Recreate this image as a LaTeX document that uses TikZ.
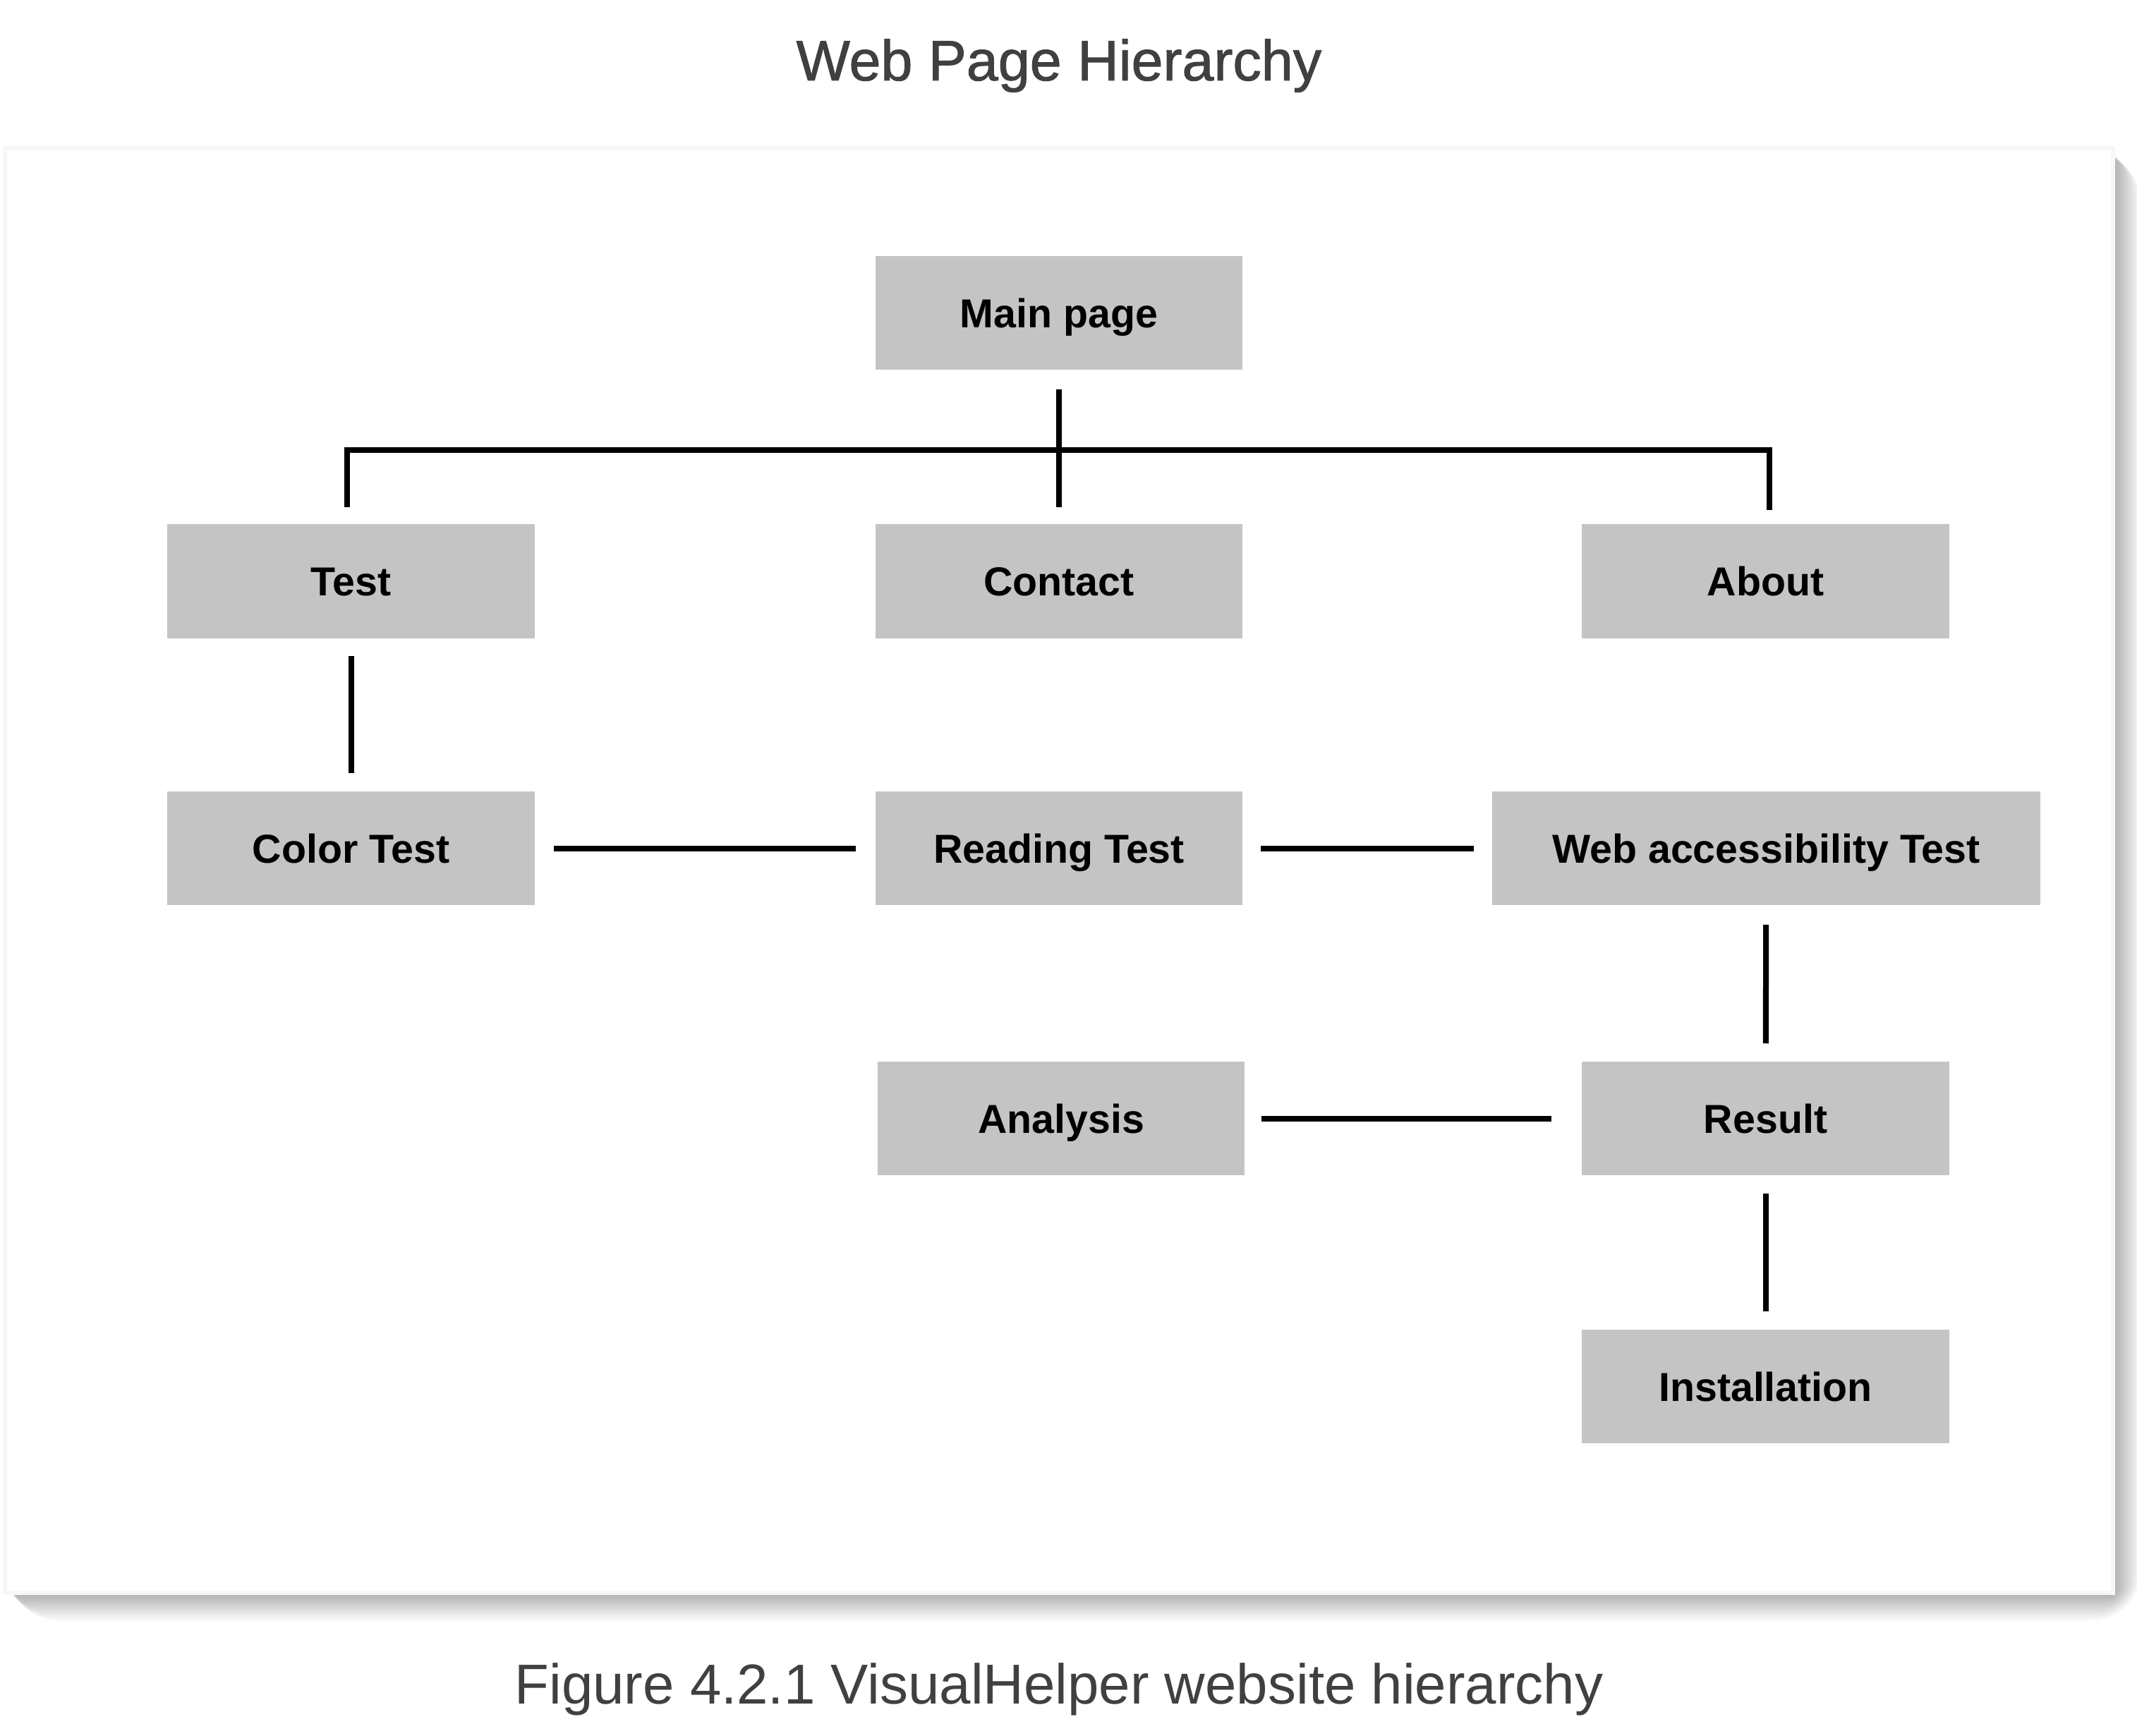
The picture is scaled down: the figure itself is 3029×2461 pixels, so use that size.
\documentclass[tikz,border=0pt]{standalone}
\usepackage{fontspec}
\setmainfont{Liberation Sans}
\newfontfamily\titlefont{Liberation Sans}[UprightFeatures={FakeBold=1.2}]
\definecolor{boxgray}{HTML}{C4C4C4}
\definecolor{txtgray}{HTML}{404040}
\begin{document}
\begin{tikzpicture}[x=0.01cm,y=-0.01cm,
  pagebox/.style={draw=none, fill=boxgray, minimum width=5.2cm, minimum height=1.61cm,
    inner sep=0pt, text height=11.67pt, text depth=0pt,
    font=\fontsize{16.3}{19}\selectfont\bfseries, text=black},
  conn/.style={line width=0.08cm, draw=black, line join=miter, line cap=butt},
  heading/.style={anchor=base, text=txtgray, inner sep=0pt}]
\useasboundingbox (0,0) rectangle (3029,2461);
\fill[white] (0,0) rectangle (3029,2461);
% shadow of the frame
\foreach \d in {1,...,20} {
  \fill[black, opacity=0.014, rounded corners=\d pt] (14,218) rectangle ({2995+2*\d},{2258+2*\d});
}
% frame
\draw[fill=white, draw=black!3, line width=0.06cm] (7,210) rectangle (2995,2258);

% title and caption
\node[heading, font=\titlefont\fontsize{23}{28}\selectfont] (title) at (1501,114) {Web Page Hierarchy};
\node[heading, font=\fontsize{22.7}{27}\selectfont] (caption) at (1501,2415) {Figure 4.2.1 VisualHelper website hierarchy};

% pages
\node[pagebox] (main) at (1501,443.5) {Main page};
\node[pagebox] (test) at (497.5,824) {Test};
\node[pagebox] (contact) at (1501,824) {Contact};
\node[pagebox] (about) at (2502.5,824) {About};
\node[pagebox] (color) at (497.5,1202.5) {Color Test};
\node[pagebox] (reading) at (1501,1202.5) {Reading Test};
\node[pagebox, minimum width=7.77cm] (web) at (2503.5,1202.5) {Web accessibility Test};
\node[pagebox] (analysis) at (1504,1585.5) {Analysis};
\node[pagebox] (result) at (2502.5,1585.5) {Result};
\node[pagebox] (install) at (2502.5,1965.5) {Installation};

% tree connectors
\coordinate (hl) at (492,638);
\coordinate (hr) at (2508,638);
\draw[conn, shorten <=0.27cm, shorten >=0.24cm] (main) -- (contact);
\draw[conn] ([yshift=0.24cm]test.north -| hl) -- (hl) -- (hr) -- ([yshift=0.20cm]about.north -| hr);

% other connectors
\draw[conn, shorten <=0.25cm, shorten >=0.25cm] (test) -- (color);
\draw[conn, shorten <=0.27cm, shorten >=0.27cm] (color) -- (reading);
\draw[conn, shorten <=0.25cm, shorten >=0.25cm] (reading) -- (web);
\draw[conn, shorten <=0.27cm, shorten >=0.25cm] (web) -- (result);
\draw[conn, shorten <=0.23cm, shorten >=0.43cm] (analysis.east) -- (analysis.east -| result.west);
\draw[conn, shorten <=0.25cm, shorten >=0.25cm] (result) -- (install);
\end{tikzpicture}
\end{document}
